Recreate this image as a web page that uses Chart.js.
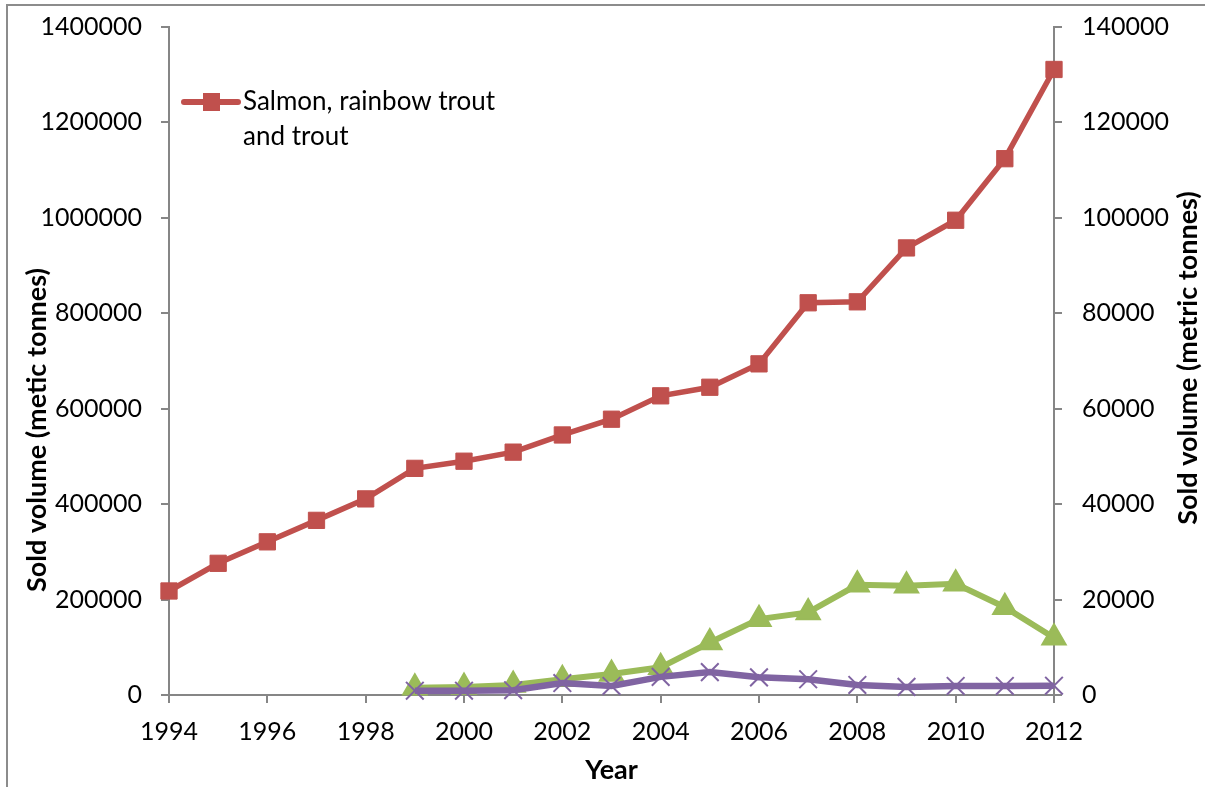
<!DOCTYPE html>
<html>
<head>
<meta charset="utf-8">
<title>Sold volume by year</title>
<script src="https://cdn.jsdelivr.net/npm/chart.js@4.4.1/dist/chart.umd.min.js"></script>
<style>
  html, body { margin: 0; padding: 0; background: #fff; }
  canvas { display: block; }
</style>
</head>
<body>
<canvas id="chart" width="1205" height="787"></canvas>
<script>
// Years on the horizontal axis
const years = [1994, 1995, 1996, 1997, 1998, 1999, 2000, 2001, 2002, 2003,
               2004, 2005, 2006, 2007, 2008, 2009, 2010, 2011, 2012];

// Left axis: salmon, rainbow trout and trout (metric tonnes)
const salmonVolume = [218000, 276000, 321000, 366000, 411000, 475000, 490000, 509000, 545000, 578000,
                      627000, 645000, 694000, 822000, 824000, 937000, 995000, 1124000, 1311000];

// Right axis: the two smaller series, reported from 1999 onward
const greenVolume  = [null, null, null, null, null, 1500, 1700, 2100, 3300, 4400,
                      5800, 11000, 15900, 17300, 23100, 22900, 23300, 18400, 12000];
const purpleVolume = [null, null, null, null, null, 900, 900, 1000, 2500, 1900,
                      3800, 4800, 3700, 3300, 2100, 1700, 1900, 1900, 1950];

// Tick labels
const yearTicks  = [1994, 1996, 1998, 2000, 2002, 2004, 2006, 2008, 2010, 2012];
const leftTicks  = [0, 200000, 400000, 600000, 800000, 1000000, 1200000, 1400000];
const rightTicks = [0, 20000, 40000, 60000, 80000, 100000, 120000, 140000];

// Texts
const salmonLabel = ['Salmon, rainbow trout', 'and trout'];
const leftTitle   = 'Sold volume (metic tonnes)';
const rightTitle  = 'Sold volume (metric tonnes)';
const xTitle      = 'Year';

const FONT = 'Lato, "Liberation Sans", sans-serif';
const AXIS_GREY = '#868686';
const RED = '#C0504D', GREEN = '#9BBB59', PURPLE = '#8064A2';

const toPoints = (vals) => years.map((yr, i) => ({ x: yr, y: vals[i] }));
const fixedTicks = (arr) => (scale) => { scale.ticks = arr.map(v => ({ value: v })); };
// fixed width for a vertical axis, without the extra label padding above/below the plot
const fixedWidth = (w) => (scale) => { scale.width = w; scale.paddingTop = 0; scale.paddingBottom = 0; };

// Outer frame, rotated axis titles and the single-entry legend
const decorations = {
  id: 'decorations',
  beforeDraw(chart) {
    const ctx = chart.ctx;
    ctx.save();
    ctx.strokeStyle = '#8c8c8c';
    ctx.lineWidth = 2;
    ctx.beginPath();
    ctx.moveTo(7, chart.height);
    ctx.lineTo(7, 5);
    ctx.lineTo(chart.width, 5);
    ctx.stroke();
    ctx.restore();
  },
  afterDraw(chart) {
    const ctx = chart.ctx;
    const a = chart.chartArea;
    ctx.save();
    ctx.fillStyle = '#000';
    ctx.font = 'bold 27px ' + FONT;
    ctx.textAlign = 'center';
    ctx.textBaseline = 'middle';
    // left title
    ctx.save();
    ctx.translate(37, 430);
    ctx.rotate(-Math.PI / 2);
    ctx.fillText(leftTitle, 0, 0);
    ctx.restore();
    // right title
    ctx.save();
    ctx.translate(1188, 358);
    ctx.rotate(-Math.PI / 2);
    ctx.fillText(rightTitle, 0, 0);
    ctx.restore();

    // legend entry for the first dataset
    const ds = chart.data.datasets[0];
    const ly = a.top + 75;
    ctx.strokeStyle = ds.borderColor;
    ctx.lineWidth = 6;
    ctx.lineCap = 'round';
    ctx.beginPath();
    ctx.moveTo(a.left + 15, ly);
    ctx.lineTo(a.left + 69, ly);
    ctx.stroke();
    ctx.fillStyle = ds.backgroundColor;
    ctx.fillRect(a.left + 34, ly - 9, 17, 18);
    ctx.fillStyle = '#000';
    ctx.font = '26px ' + FONT;
    ctx.textAlign = 'left';
    salmonLabel.forEach((line, i) => ctx.fillText(line, a.left + 74, ly + i * 35));
    ctx.restore();
  }
};

new Chart(document.getElementById('chart'), {
  type: 'line',
  data: {
    datasets: [
      {
        label: salmonLabel.join(' '),
        data: toPoints(salmonVolume),
        yAxisID: 'y',
        borderColor: RED,
        backgroundColor: RED,
        borderWidth: 5.5,
        pointStyle: 'rect',
        pointRadius: 11.5,
        pointBorderWidth: 1,
        pointBorderColor: RED,
        pointBackgroundColor: RED
      },
      {
        label: 'Series 3',
        data: toPoints(purpleVolume),
        yAxisID: 'y2',
        borderColor: PURPLE,
        backgroundColor: PURPLE,
        borderWidth: 6.5,
        pointStyle: 'crossRot',
        pointRadius: 12.5,
        pointBorderWidth: 2,
        pointBorderColor: PURPLE
      },
      {
        label: 'Series 2',
        data: toPoints(greenVolume),
        yAxisID: 'y2',
        borderColor: GREEN,
        backgroundColor: GREEN,
        borderWidth: 6,
        pointStyle: 'triangle',
        pointRadius: 13.5,
        pointBorderWidth: 2,
        pointBorderColor: GREEN,
        pointBackgroundColor: GREEN
      }
    ]
  },
  options: {
    responsive: false,
    animation: false,
    events: [],
    layout: { padding: { top: 27, left: 0, right: 0, bottom: 0 } },
    elements: { line: { tension: 0 } },
    datasets: { line: { clip: false, spanGaps: false } },
    plugins: { legend: { display: false }, tooltip: { enabled: false } },
    scales: {
      x: {
        type: 'linear',
        min: 1994,
        max: 2012,
        afterBuildTicks: fixedTicks(yearTicks),
        afterFit: (s) => { s.height = 92; },
        grid: { drawOnChartArea: false, drawTicks: true, tickLength: 8, color: AXIS_GREY, lineWidth: 2 },
        border: { color: AXIS_GREY, width: 2 },
        ticks: { color: '#000', font: { family: FONT, size: 25 }, padding: 14, maxRotation: 0, autoSkip: false,
                 callback: (v) => String(v) },
        title: { display: true, text: xTitle, color: '#000', font: { family: FONT, size: 27, weight: 'bold' },
                 padding: { top: 0, bottom: 1 } }
      },
      y: {
        position: 'left',
        min: 0,
        max: 1400000,
        afterBuildTicks: fixedTicks(leftTicks),
        afterFit: fixedWidth(169),
        grid: { drawOnChartArea: false, drawTicks: true, tickLength: 8, color: AXIS_GREY, lineWidth: 2 },
        border: { color: AXIS_GREY, width: 2 },
        ticks: { color: '#000', font: { family: FONT, size: 25 }, padding: 19, callback: (v) => String(v) }
      },
      y2: {
        position: 'right',
        min: 0,
        max: 140000,
        afterBuildTicks: fixedTicks(rightTicks),
        afterFit: fixedWidth(151),
        grid: { drawOnChartArea: false, drawTicks: true, tickLength: 8, color: AXIS_GREY, lineWidth: 2 },
        border: { color: AXIS_GREY, width: 2 },
        ticks: { color: '#000', font: { family: FONT, size: 25 }, padding: 20, callback: (v) => String(v) }
      }
    }
  },
  plugins: [decorations]
});
</script>
</body>
</html>
